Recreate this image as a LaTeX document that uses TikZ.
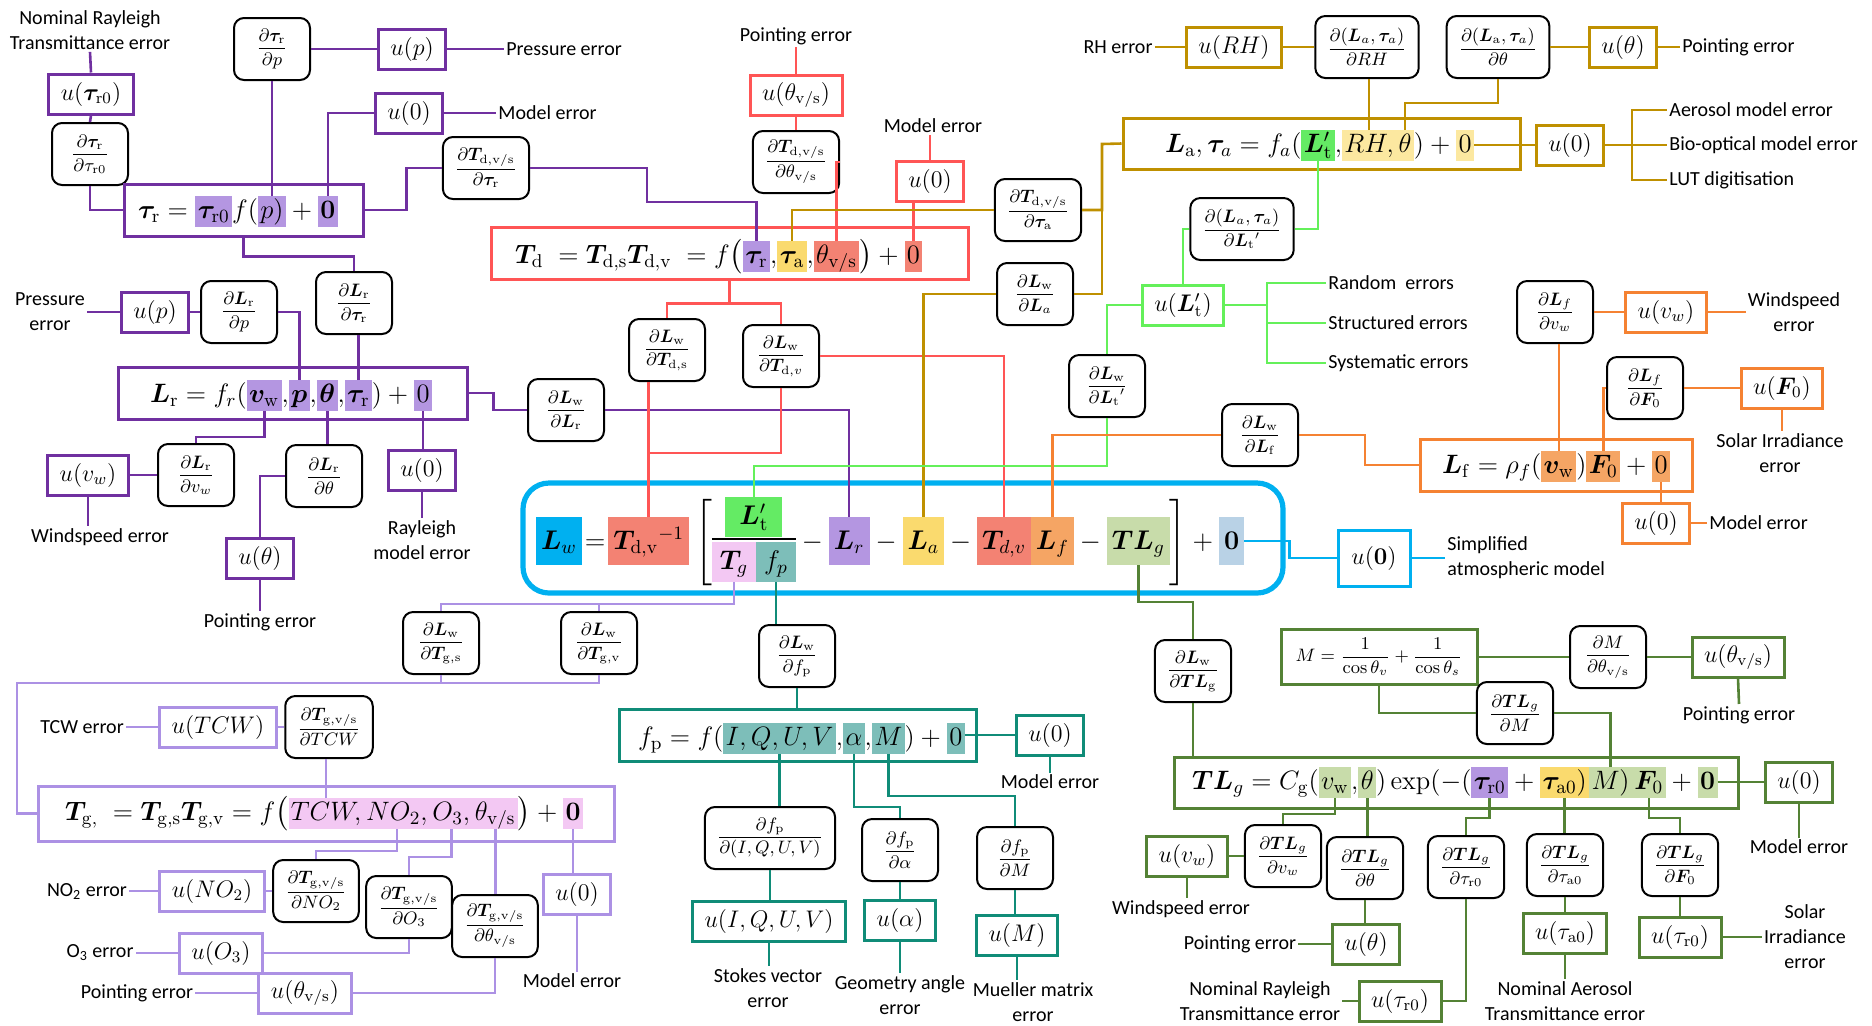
\RequirePackage{fix-cm}
\documentclass[tikz,border=0pt]{standalone}
\usepackage{amsmath}
\usepackage{bm}
\usepackage[no-math]{fontspec}
\setmainfont{Carlito}
\usetikzlibrary{positioning,fit,calc}

\definecolor{cpurple}{RGB}{112,48,160}
\definecolor{clav}{RGB}{172,145,228}
\definecolor{cred}{RGB}{255,85,85}
\definecolor{cgold}{RGB}{191,144,0}
\definecolor{cgreen}{RGB}{100,240,90}
\definecolor{corange}{RGB}{245,130,50}
\definecolor{colive}{RGB}{84,130,53}
\definecolor{cteal}{RGB}{16,140,120}
\definecolor{cblue}{RGB}{0,176,240}
\definecolor{hblue}{RGB}{0,176,240}
\definecolor{hsal}{RGB}{243,130,115}
\definecolor{hgrn}{RGB}{100,235,100}
\definecolor{hpink}{RGB}{243,200,243}
\definecolor{hteal}{RGB}{125,190,185}
\definecolor{hlav}{RGB}{180,150,225}
\definecolor{hyel}{RGB}{250,218,110}
\definecolor{hpyel}{RGB}{252,232,160}
\definecolor{hor}{RGB}{245,165,100}
\definecolor{hpale}{RGB}{200,220,170}
\definecolor{hzero}{RGB}{185,210,230}

\tikzset{
  lbl/.style={font=\fontsize{10}{12.5}\selectfont, align=center, inner sep=1pt},
  dbox/.style={draw=black, line width=1pt, rounded corners=5pt, fill=white,
    inner xsep=6pt, inner ysep=2pt, minimum width=38pt, minimum height=31pt,
    font=\fontsize{9}{11}\selectfont},
  ubox/.style={draw=#1, line width=1.5pt, fill=white, inner xsep=6pt,
    inner ysep=2pt, minimum height=20pt, font=\fontsize{12}{14}\selectfont},
  eqbox/.style={draw=#1, line width=1.5pt, inner sep=0pt},
  wire/.style={draw=#1, line width=1.3pt},
  term/.style={inner sep=0pt, outer sep=0pt, anchor=base west},
  hl/.style={term, fill=#1, inner xsep=1.2pt, inner ysep=1pt, text height=10pt, text depth=3.5pt},
  hlm/.style={term, fill=#1, inner xsep=2.5pt, inner ysep=4pt, text height=12pt, text depth=4pt},
  hlf/.style={term, fill=#1, inner xsep=4pt, inner ysep=2.5pt, text height=11pt, text depth=4pt},
}

\begin{document}
\begin{tikzpicture}[x=0.5pt,y=-0.5pt]
\useasboundingbox (0,0) rectangle (1872,1025);

% main equation
\node[draw=cblue, line width=2.6pt, rounded corners=13pt, inner sep=0pt, fit={(523,483) (1283,593)}] (main) {};
\begin{scope}[font=\fontsize{13.5}{16}\selectfont]
\node[hlm=hblue] (mLw) at (536,549) {$\bm L_w$};
\node[term] (meq) at (mLw.base east) {$\mkern2mu=\mkern2mu$};
\node[hlm=hsal] (mTdvi) at (meq.base east) {$\bm T_{\mathrm{d,v}}{}^{-1}$};
\node[term] (mbl) at (mTdvi.base east) {$\mkern4mu\Bigg[$};
\node[hlf=hpink] (mTg) at ($(mbl.base east)+(0,20)$) {$\bm T_g$};
\node[hlf=hteal] (mfp) at (mTg.base east) {$f_p$};
\node[hlf=hgrn, inner xsep=7pt, anchor=base] (mLt) at ($(mTg.base west)!0.5!(mfp.base east)+(0,-45)$) {$\bm L'_{\mathrm t}$};
\node[term] (mm1) at (mfp.base east |- mLw.base) {${}-{}$};
\node[hlm=hlav] (mLr) at (mm1.base east) {$\bm L_r$};
\node[term] (mm2) at (mLr.base east) {${}-{}$};
\node[hlm=hyel] (mLa) at (mm2.base east) {$\bm L_a$};
\node[term] (mm3) at (mLa.base east) {${}-{}$};
\node[hlm=hsal] (mTdv) at (mm3.base east) {$\bm T_{d,v}$};
\node[hlm=hor] (mLf) at (mTdv.base east) {$\bm L_f$};
\node[term] (mm4) at (mLf.base east) {${}-{}$};
\node[hlm=hpale] (mTLg) at (mm4.base east) {$\bm{TL}_g$};
\node[term] (mbr) at (mTLg.base east) {$\Bigg]{}+{}$};
\node[hlm=hzero] (mz) at (mbr.base east) {$\mathbf 0$};
\end{scope}
\draw[line width=1pt] ([yshift=1.5pt]mTg.north west) -- ([yshift=1.5pt]mfp.north east);

\node[ubox=cblue, minimum width=36pt, minimum height=28pt] (u0m) at (1374,558) {$u(\mathbf 0)$};
\node[lbl, anchor=west, align=left] (lsimp) at (1445,558) {Simplified\\atmospheric model};
\draw[wire=cblue] (mz.east) -- ++(45,0) |- (u0m.west);
\draw[wire=cblue] (u0m.east) -- (lsimp.west);

% tau_r
\node[lbl] (lnomr1) at (90,30) {Nominal Rayleigh\\Transmittance error};
\node[ubox=cpurple] (utr0) at (91,94) {$u(\bm\tau_{\mathrm r0})$};
\node[dbox] (dtrdtr0) at (90,154) {$\dfrac{\partial\bm\tau_{\mathrm r}}{\partial\tau_{\mathrm r0}}$};
\node[eqbox=cpurple, fit={(124,184) (363,236)}] (eqtr) {};
\begin{scope}[font=\fontsize{13.3}{16}\selectfont]
\node[term] (tr1) at (138,218) {$\bm\tau_{\mathrm r}={}$};
\node[hl=hlav] (trr0) at (tr1.base east) {$\bm\tau_{\mathrm r0}$};
\node[term] (tr2) at (trr0.base east) {$f($};
\node[hl=hlav] (trp) at (tr2.base east) {$p)$};
\node[term] (tr3) at (trp.base east) {${}+{}$};
\node[hl=hlav] (trz) at (tr3.base east) {$\mathbf 0$};
\end{scope}
\node[dbox] (dtrdp) at (272,49) {$\dfrac{\partial\bm\tau_{\mathrm r}}{\partial p}$};
\node[ubox=cpurple] (up1) at (412,49) {$u(p)$};
\node[lbl, anchor=west] (lpress1) at (504,49) {Pressure error};
\node[ubox=cpurple] (u01) at (409,113) {$u(0)$};
\node[lbl, anchor=west] (lmodel1) at (496,113) {Model error};
\node[dbox] (dTddtr) at (486,168) {$\dfrac{\partial\bm T_{\mathrm{d,v/s}}}{\partial\bm\tau_{\mathrm r}}$};

\draw[wire=cpurple] (lnomr1.south) -- (utr0.north);
\draw[wire=cpurple] (utr0.south) -- (dtrdtr0.north);
\draw[wire=cpurple] (dtrdtr0.south) |- (eqtr.west);
\draw[wire=cpurple] (trp.north) -- (trp.north |- dtrdp.south);
\draw[wire=cpurple] (dtrdp.east) -- (up1.west);
\draw[wire=cpurple] (up1.east) -- (lpress1.west);
\draw[wire=cpurple] (u01.west) -| (trz.north);
\draw[wire=cpurple] (u01.east) -- (lmodel1.west);
\draw[wire=cpurple] (eqtr.east) -- ++(42,0) |- (dTddtr.west);

% L_r
\node[dbox] (dLrdtr) at (354,303) {$\dfrac{\partial\bm L_{\mathrm r}}{\partial\bm\tau_{\mathrm r}}$};
\node[lbl] (lpress2) at (50,312) {Pressure\\error};
\node[ubox=cpurple] (up2) at (155,312) {$u(p)$};
\node[dbox] (dLrdp) at (239,312) {$\dfrac{\partial\bm L_{\mathrm r}}{\partial p}$};
\node[eqbox=cpurple, fit={(118,367) (467,419)}] (eqlr) {};
\begin{scope}[font=\fontsize{13.3}{16}\selectfont]
\node[term] (lr1) at (150,402) {$\bm L_{\mathrm r}=f_r($};
\node[hl=hlav] (lrvw) at (lr1.base east) {$\bm v_{\mathrm w}$};
\node[term] (lr2) at (lrvw.base east) {$,$};
\node[hl=hlav] (lrp) at (lr2.base east) {$\bm p$};
\node[term] (lr3) at (lrp.base east) {$,$};
\node[hl=hlav] (lrth) at (lr3.base east) {$\bm\theta$};
\node[term] (lr4) at (lrth.base east) {$,$};
\node[hl=hlav] (lrtr) at (lr4.base east) {$\bm\tau_{\mathrm r}$};
\node[term] (lr5) at (lrtr.base east) {$)+{}$};
\node[hl=hlav] (lrz) at (lr5.base east) {$0$};
\end{scope}
\node[dbox] (dLrdvw) at (196,475) {$\dfrac{\partial\bm L_{\mathrm r}}{\partial v_w}$};
\node[ubox=cpurple] (uvw1) at (88,475) {$u(v_w)$};
\node[lbl] (lwind1) at (100,537) {Windspeed error};
\node[dbox] (dLrdth) at (324,476) {$\dfrac{\partial\bm L_{\mathrm r}}{\partial\theta}$};
\node[ubox=cpurple] (uth1) at (260,558) {$u(\theta)$};
\node[lbl] (lpoint1) at (260,622) {Pointing error};
\node[ubox=cpurple] (u0lr) at (422,470) {$u(0)$};
\node[lbl] (lray) at (422,540) {Rayleigh\\model error};
\node[dbox] (dLwdLr) at (566,410) {$\dfrac{\partial\bm L_{\mathrm w}}{\partial\bm L_{\mathrm r}}$};

\draw[wire=cpurple] (eqtr.south) -- ++(0,19) -| (dLrdtr.north);
\draw[wire=cpurple] (lrtr.north) -- (lrtr.north |- dLrdtr.south);
\draw[wire=cpurple] (lpress2.east) -- (up2.west);
\draw[wire=cpurple] (up2.east) -- (dLrdp.west);
\draw[wire=cpurple] (dLrdp.east) -| (lrp.north);
\draw[wire=cpurple] (lrvw.south) -- (lrvw.south |- 0,437) -| (dLrdvw.north);
\draw[wire=cpurple] (dLrdvw.west) -- (uvw1.east);
\draw[wire=cpurple] (uvw1.south) -- (uvw1.south |- lwind1.north);
\draw[wire=cpurple] (lrth.south) -- (lrth.south |- dLrdth.north);
\draw[wire=cpurple] (dLrdth.west) -| (uth1.north);
\draw[wire=cpurple] (uth1.south) -- (lpoint1.north);
\draw[wire=cpurple] (lrz.south) -- (lrz.south |- u0lr.north);
\draw[wire=cpurple] (u0lr.south) -- (lray.north);
\draw[wire=cpurple] (eqlr.east) -- ++(25,0) |- (dLwdLr.west);
\draw[wire=cpurple] (dLwdLr.east) -| (mLr.north);

% T_d
\node[lbl] (lpoint2) at (796,36) {Pointing error};
\node[ubox=cred] (uthvs1) at (796,95) {$u(\theta_{\mathrm{v/s}})$};
\node[dbox] (dTddth) at (796,162) {$\dfrac{\partial\bm T_{\mathrm{d,v/s}}}{\partial\theta_{\mathrm{v/s}}}$};
\node[lbl] (lmodel2) at (933,126) {Model error};
\node[ubox=cred] (u0td) at (930,181) {$u(0)$};
\node[eqbox=cred, fit={(491,227) (968,279)}] (eqtd) {};
\begin{scope}[font=\fontsize{13.3}{16}\selectfont]
\node[term] (td1) at (515,263) {$\bm T_{\mathrm d}\;=\bm T_{\mathrm{d,s}}\bm T_{\mathrm{d,v}}\;=f\big($};
\node[hl=hlav] (tdtr) at (td1.base east) {$\bm\tau_{\mathrm r}$};
\node[term] (td2) at (tdtr.base east) {$,$};
\node[hl=hyel] (tdta) at (td2.base east) {$\bm\tau_{\mathrm a}$};
\node[term] (td3) at (tdta.base east) {$,$};
\node[hl=hsal] (tdth) at (td3.base east) {$\theta_{\mathrm{v/s}}$};
\node[term] (td4) at (tdth.base east) {$\big)+{}$};
\node[hl=hsal] (tdz) at (td4.base east) {$0$};
\end{scope}
\node[dbox] (dLwdTds) at (667,350) {$\dfrac{\partial\bm L_{\mathrm w}}{\partial\bm T_{\mathrm{d,s}}}$};
\node[dbox] (dLwdTdv) at (781,356) {$\dfrac{\partial\bm L_{\mathrm w}}{\partial\bm T_{\mathrm{d,}v}}$};

\draw[wire=cpurple] (dTddtr.east) -| (647,202) -| (tdtr.north);
\draw[wire=cred] (lpoint2.south) -- (uthvs1.north);
\draw[wire=cred] (uthvs1.south) -- (dTddth.north);
\draw[wire=cred] (dTddth.east) -| (tdth.north);
\draw[wire=cred] (u0td.north) -- (u0td.north |- lmodel2.south);
\draw[wire=cred] (tdz.north) -- (tdz.north |- u0td.south);
\draw[wire=cred] (eqtd.south) -- ++(0,23) -| (dLwdTds.north);
\draw[wire=cred] (eqtd.south) -- ++(0,23) -| (dLwdTdv.north);
\draw[wire=cred] (mTdvi.north) -- (mTdvi.north |- dLwdTds.south);
\draw[wire=cred] (dLwdTdv.south) -- (dLwdTdv.south |- 0,453) -| (mTdvi.north);
\draw[wire=cred] (dLwdTdv.east) -| (mTdv.north);

% L_a
\node[lbl] (lrh) at (1118,47) {RH error};
\node[ubox=cgold] (urh) at (1234,47) {$u(RH)$};
\node[dbox] (dLadRH) at (1367,47) {$\dfrac{\partial(\bm L_a,\bm\tau_a)}{\partial RH}$};
\node[dbox] (dLadth) at (1498,47) {$\dfrac{\partial(\bm L_{\mathrm a},\bm\tau_a)}{\partial\theta}$};
\node[ubox=cgold] (uth2) at (1623,47) {$u(\theta)$};
\node[lbl, anchor=west] (lpoint3) at (1680,47) {Pointing error};
\node[eqbox=cgold, fit={(1123,118) (1520,169)}] (eqla) {};
\begin{scope}[font=\fontsize{13.3}{16}\selectfont]
\node[term] (la1) at (1165,152) {$\bm L_{\mathrm a},\bm\tau_a=f_a($};
\node[hl=hgrn] (laLt) at (la1.base east) {$\bm L'_{\mathrm t}$};
\node[term] (la2) at (laLt.base east) {$,$};
\node[hl=hpyel] (larh) at (la2.base east) {$RH,$};
\node[hl=hpyel] (lath) at (larh.base east) {$\theta$};
\node[term] (la3) at (lath.base east) {$)+{}$};
\node[hl=hpyel] (laz) at (la3.base east) {$0$};
\end{scope}
\node[ubox=cgold] (u0la) at (1570,145) {$u(0)$};
\node[lbl, anchor=west] (laer) at (1667,110) {Aerosol model error};
\node[lbl, anchor=west] (lbio) at (1667,145) {Bio-optical model error};
\node[lbl, anchor=west] (llut) at (1667,180) {LUT digitisation};
\node[dbox] (dTddta) at (1038,210) {$\dfrac{\partial\bm T_{\mathrm{d,v/s}}}{\partial\bm\tau_{\mathrm a}}$};
\node[dbox] (dLwdLa) at (1035,294) {$\dfrac{\partial\bm L_{\mathrm w}}{\partial\bm L_a}$};
\coordinate (gbus) at (1102,144);
\coordinate (gbr) at (1632,145);

\draw[wire=cgold] (lrh.east) -- (urh.west);
\draw[wire=cgold] (urh.east) -- (dLadRH.west);
\draw[wire=cgold] (larh.north) -- (larh.north |- dLadRH.south);
\draw[wire=cgold] (dLadth.south) -- (dLadth.south |- 0,103) -| (lath.north);
\draw[wire=cgold] (dLadth.east) -- (uth2.west);
\draw[wire=cgold] (uth2.east) -- (lpoint3.west);
\draw[wire=cgold] (laz.east |- u0la.west) -- (u0la.west);
\draw[wire=cgold] (u0la.east) -- (gbr) |- (laer.west);
\draw[wire=cgold] (gbr) |- (lbio.west);
\draw[wire=cgold] (gbr) |- (llut.west);
\draw[wire=cgold] (tdta.north) |- (dTddta.west);
\draw[wire=cgold] (dTddta.east) -| (gbus) -- (eqla.west);
\draw[wire=cgold] (dLwdLa.east) -| (gbus);
\draw[wire=cgold] (dLwdLa.west) -| (mLa.north);

% L_t'
\node[ubox=cgreen] (ult) at (1183,305) {$u(\bm L'_{\mathrm t})$};
\node[dbox] (dLadLt) at (1242,229) {$\dfrac{\partial(\bm L_a,\bm\tau_a)}{\partial{\bm L_{\mathrm t}}'}$};
\node[dbox] (dLwdLt) at (1107,386) {$\dfrac{\partial\bm L_{\mathrm w}}{\partial{\bm L_{\mathrm t}}'}$};
\node[lbl, anchor=west] (lrand) at (1326,283) {Random\ \ errors};
\node[lbl, anchor=west] (lstruc) at (1326,323) {Structured errors};
\node[lbl, anchor=west] (lsyst) at (1326,363) {Systematic errors};
\coordinate (gnb) at (1267,305);

\draw[wire=cgreen] (ult.north) |- (dLadLt.west);
\draw[wire=cgreen] (dLadLt.east) -| (laLt.south);
\draw[wire=cgreen] (ult.west) -| (dLwdLt.north);
\draw[wire=cgreen] (dLwdLt.south) -- (dLwdLt.south |- 0,466) -| (mLt.north);
\draw[wire=cgreen] (ult.east) -- (gnb) |- (lrand.west);
\draw[wire=cgreen] (gnb) |- (lstruc.west);
\draw[wire=cgreen] (gnb) |- (lsyst.west);

% L_f
\node[dbox] (dLfdvw) at (1555,312) {$\dfrac{\partial\bm L_f}{\partial v_w}$};
\node[ubox=corange] (uvw2) at (1666,312) {$u(v_w)$};
\node[lbl] (lwind2) at (1794,312) {Windspeed\\error};
\node[dbox] (dLfdF0) at (1645,388) {$\dfrac{\partial\bm L_f}{\partial\bm F_0}$};
\node[ubox=corange] (uf0) at (1782,388) {$u(\bm F_0)$};
\node[lbl] (lsolar1) at (1780,453) {Solar Irradiance\\error};
\node[eqbox=corange, fit={(1420,439) (1692,491)}] (eqlf) {};
\begin{scope}[font=\fontsize{13.3}{16}\selectfont]
\node[term] (lf1) at (1442,473) {$\bm L_{\mathrm f}=\rho_f($};
\node[hl=hor] (lfvw) at (lf1.base east) {$\bm v_{\mathrm w}$};
\node[term] (lf2) at (lfvw.base east) {$)$};
\node[hl=hor] (lfF) at (lf2.base east) {$\bm F_0$};
\node[term] (lf3) at (lfF.base east) {${}+{}$};
\node[hl=hor] (lfz) at (lf3.base east) {$0$};
\end{scope}
\node[ubox=corange] (u0lf) at (1656,523) {$u(0)$};
\node[lbl, anchor=west] (lmodel3) at (1707,523) {Model error};
\node[dbox] (dLwdLf) at (1260,435) {$\dfrac{\partial\bm L_{\mathrm w}}{\partial\bm L_{\mathrm f}}$};
\coordinate (obus) at (1365,465);

\draw[wire=corange] (dLfdvw.east) -- (uvw2.west);
\draw[wire=corange] (uvw2.east) -- (lwind2.west);
\draw[wire=corange] (lfvw.north) -- (lfvw.north |- dLfdvw.south);
\draw[wire=corange] (dLfdF0.west) -| (lfF.north);
\draw[wire=corange] (dLfdF0.east) -- (uf0.west);
\draw[wire=corange] (uf0.south) -- (uf0.south |- lsolar1.north);
\draw[wire=corange] (lfz.south) -- (lfz.south |- u0lf.north);
\draw[wire=corange] (u0lf.east) -- (lmodel3.west);
\draw[wire=corange] (mLf.north) |- (dLwdLf.west);
\draw[wire=corange] (dLwdLf.east) -| (obus) -- (eqlf.west);

% TL_g
\node[dbox] (dLwdTLg) at (1193,671) {$\dfrac{\partial\bm L_{\mathrm w}}{\partial\bm{TL}_{\mathrm g}}$};
\node[eqbox=colive, fit={(1174,757) (1738,808)}] (eqtl) {};
\begin{scope}[font=\fontsize{13.3}{16}\selectfont]
\node[term] (tl1) at (1192,789) {$\bm{TL}_g=C_{\mathrm g}($};
\node[hl=hpale] (tlvw) at (tl1.base east) {$v_{\mathrm w}$};
\node[term] (tl2) at (tlvw.base east) {$,$};
\node[hl=hpale] (tlth) at (tl2.base east) {$\theta$};
\node[term] (tl3) at (tlth.base east) {$)\exp(-($};
\node[hl=hlav] (tltr) at (tl3.base east) {$\bm\tau_{\mathrm r0}$};
\node[term] (tl4) at (tltr.base east) {${}+{}$};
\node[hl=hyel] (tlta) at (tl4.base east) {$\bm\tau_{\mathrm a0})$};
\node[hl=hpale] (tlM) at (tlta.base east) {$M)$};
\node[hl=hpale] (tlF) at (tlM.base east) {$\bm F_0$};
\node[term] (tl5) at (tlF.base east) {${}+{}$};
\node[hl=hpale] (tlz) at (tl5.base east) {$\mathbf 0$};
\end{scope}
\node[eqbox=colive, minimum width=98pt, minimum height=27.5pt, font=\fontsize{9}{11}\selectfont] (mbox) at (1379,657) {$M=\dfrac{1}{\cos\theta_v}+\dfrac{1}{\cos\theta_s}$};
\node[dbox] (dMdth) at (1608,657) {$\dfrac{\partial M}{\partial\theta_{\mathrm{v/s}}}$};
\node[ubox=colive] (uthvs2) at (1738,657) {$u(\theta_{\mathrm{v/s}})$};
\node[lbl] (lpoint4) at (1739,715) {Pointing error};
\node[dbox] (dTLgdM) at (1515,713) {$\dfrac{\partial\bm{TL}_g}{\partial M}$};
\node[dbox] (dTLgdvw) at (1283,856) {$\dfrac{\partial\bm{TL}_g}{\partial v_w}$};
\node[ubox=colive] (uvw3) at (1187,856) {$u(v_w)$};
\node[lbl] (lwind3) at (1181,909) {Windspeed error};
\node[dbox] (dTLgdth) at (1365,868) {$\dfrac{\partial\bm{TL}_g}{\partial\theta}$};
\node[ubox=colive] (uth3) at (1366,944) {$u(\theta)$};
\node[lbl] (lpoint5) at (1240,944) {Pointing error};
\node[dbox] (dTLgdtr) at (1466,867) {$\dfrac{\partial\bm{TL}_g}{\partial\tau_{\mathrm r0}}$};
\node[ubox=colive] (utr02) at (1400,1001) {$u(\tau_{\mathrm r0})$};
\node[lbl] (lnomr2) at (1260,1001) {Nominal Rayleigh\\Transmittance error};
\node[dbox] (dTLgdta) at (1565,865) {$\dfrac{\partial\bm{TL}_g}{\partial\tau_{\mathrm a0}}$};
\node[ubox=colive] (uta0) at (1565,933) {$u(\tau_{\mathrm a0})$};
\node[lbl] (lnoma) at (1565,1001) {Nominal Aerosol\\Transmittance error};
\node[dbox] (dTLgdF) at (1680,865) {$\dfrac{\partial\bm{TL}_g}{\partial\bm F_0}$};
\node[ubox=colive] (utr03) at (1680,937) {$u(\tau_{\mathrm r0})$};
\node[lbl] (lsolar2) at (1805,937) {Solar\\Irradiance\\error};
\node[ubox=colive] (u0tl) at (1799,782) {$u(0)$};
\node[lbl] (lmodel4) at (1799,847) {Model error};

\draw[wire=colive] (mTLg.south) -- (mTLg.south |- 0,602) -| (dLwdTLg.north);
\draw[wire=colive] (dLwdTLg.south) -- (dLwdTLg.south |- eqtl.north);
\draw[wire=colive] (mbox.east) -- (dMdth.west);
\draw[wire=colive] (dMdth.east) -- (uthvs2.west);
\draw[wire=colive] (uthvs2.south) -- (lpoint4.north);
\draw[wire=colive] (mbox.south) |- (dTLgdM.west);
\draw[wire=colive] (dTLgdM.east) -| (tlM.north);
\draw[wire=colive] (tlvw.south) -- (tlvw.south |- 0,814) -| (dTLgdvw.north);
\draw[wire=colive] (dTLgdvw.west) -- (uvw3.east);
\draw[wire=colive] (uvw3.south) -- (uvw3.south |- lwind3.north);
\draw[wire=colive] (tlth.south) -- (tlth.south |- dTLgdth.north);
\draw[wire=colive] (dTLgdth.south) -- (dTLgdth.south |- uth3.north);
\draw[wire=colive] (uth3.west) -- (lpoint5.east);
\draw[wire=colive] (tltr.south) -- (tltr.south |- 0,818) -| (dTLgdtr.north);
\draw[wire=colive] (dTLgdtr.south) |- (utr02.east);
\draw[wire=colive] (utr02.west) -- (lnomr2.east);
\draw[wire=colive] (tlta.south) -- (tlta.south |- dTLgdta.north);
\draw[wire=colive] (dTLgdta.south) -- (dTLgdta.south |- uta0.north);
\draw[wire=colive] (uta0.south) -- (lnoma.north);
\draw[wire=colive] (tlF.south) -- (tlF.south |- 0,818) -| (dTLgdF.north);
\draw[wire=colive] (dTLgdF.south) -- (utr03.north);
\draw[wire=colive] (utr03.east) -- (lsolar2.west);
\draw[wire=colive] (tlz.east |- u0tl.west) -- (u0tl.west);
\draw[wire=colive] (u0tl.south) -- (lmodel4.north);

% f_p
\node[dbox] (dLwdfp) at (797,656) {$\dfrac{\partial\bm L_{\mathrm w}}{\partial f_{\mathrm p}}$};
\node[eqbox=cteal, fit={(619,709) (976,761)}] (eqfp) {};
\begin{scope}[font=\fontsize{13.3}{16}\selectfont]
\node[term] (fp1) at (638,745) {$f_{\mathrm p}=f($};
\node[hl=hteal] (fpI) at (fp1.base east) {$I,Q,U,V$};
\node[term] (fp2) at (fpI.base east) {$,$};
\node[hl=hteal] (fpa) at (fp2.base east) {$\alpha$};
\node[term] (fp3) at (fpa.base east) {$,$};
\node[hl=hteal] (fpM) at (fp3.base east) {$M$};
\node[term] (fp4) at (fpM.base east) {$)+{}$};
\node[hl=hteal] (fpz) at (fp4.base east) {$0$};
\end{scope}
\node[ubox=cteal] (u0fp) at (1050,735) {$u(0)$};
\node[lbl] (lmodel5) at (1050,782) {Model error};
\node[dbox] (dfpdI) at (770,838) {$\dfrac{\partial f_{\mathrm p}}{\partial(I,Q,U,V)}$};
\node[ubox=cteal] (uI) at (769,921) {$u(I,Q,U,V)$};
\node[lbl] (lstokes) at (768,988) {Stokes vector\\error};
\node[dbox] (dfpda) at (900,850) {$\dfrac{\partial f_{\mathrm p}}{\partial\alpha}$};
\node[ubox=cteal] (ua) at (900,920) {$u(\alpha)$};
\node[lbl] (lgeo) at (900,995) {Geometry angle\\error};
\node[dbox] (dfpdM) at (1015,858) {$\dfrac{\partial f_{\mathrm p}}{\partial M}$};
\node[ubox=cteal] (uM) at (1017,935) {$u(M)$};
\node[lbl] (lmueller) at (1033,1002) {Mueller matrix\\error};

\draw[wire=cteal] (mfp.south) -- (mfp.south |- dLwdfp.north);
\draw[wire=cteal] (dLwdfp.south) -- (dLwdfp.south |- eqfp.north);
\draw[wire=cteal] (fpz.east |- u0fp.west) -- (u0fp.west);
\draw[wire=cteal] (u0fp.south) -- (lmodel5.north);
\draw[wire=cteal] (fpI.south) -- (fpI.south |- dfpdI.north);
\draw[wire=cteal] (dfpdI.south) -- (dfpdI.south |- uI.north);
\draw[wire=cteal] (uI.south) -- (uI.south |- lstokes.north);
\draw[wire=cteal] (fpa.south) -- (fpa.south |- 0,807) -| (dfpda.north);
\draw[wire=cteal] (dfpda.south) -- (ua.north);
\draw[wire=cteal] (ua.south) -- (lgeo.north);
\draw[wire=cteal] (fpM.south) -- (fpM.south |- 0,796) -| (dfpdM.north);
\draw[wire=cteal] (dfpdM.south) -- (dfpdM.south |- uM.north);
\draw[wire=cteal] (uM.south) -- (uM.south |- lmueller.north);

% T_g
\node[dbox] (dLwdTgs) at (441,643) {$\dfrac{\partial\bm L_{\mathrm w}}{\partial\bm T_{\mathrm{g,s}}}$};
\node[dbox] (dLwdTgv) at (599,643) {$\dfrac{\partial\bm L_{\mathrm w}}{\partial\bm T_{\mathrm{g,v}}}$};
\coordinate (tgbus) at (17,683);
\node[eqbox=clav, fit={(38,786) (614,841)}] (eqtg) {};
\begin{scope}[font=\fontsize{13.3}{16}\selectfont]
\node[term] (tg1) at (65,820) {$\bm T_{\mathrm{g,}}\;=\bm T_{\mathrm{g,s}}\bm T_{\mathrm{g,v}}=f\big($};
\node[hl=hpink] (tgtcw) at (tg1.base east) {$TCW,$};
\node[hl=hpink] (tgno) at (tgtcw.base east) {$NO_2,$};
\node[hl=hpink] (tgo) at (tgno.base east) {$O_3,$};
\node[hl=hpink] (tgth) at (tgo.base east) {$\theta_{\mathrm{v/s}}$};
\node[term] (tg2) at (tgth.base east) {$\big)+{}$};
\node[hl=hpink] (tgz) at (tg2.base east) {$\mathbf 0$};
\end{scope}
\node[lbl] (ltcw) at (82,727) {TCW error};
\node[ubox=clav] (utcw) at (218,727) {$u(TCW)$};
\node[dbox] (dTgdTCW) at (329,727) {$\dfrac{\partial\bm T_{\mathrm{g,v/s}}}{\partial TCW}$};
\node[lbl] (lno2) at (87,891) {NO\textsubscript{2} error};
\node[ubox=clav] (uno2) at (212,891) {$u(NO_2)$};
\node[dbox] (dTgdNO2) at (316,891) {$\dfrac{\partial\bm T_{\mathrm{g,v/s}}}{\partial NO_2}$};
\node[dbox] (dTgdO3) at (409,907) {$\dfrac{\partial\bm T_{\mathrm{g,v/s}}}{\partial O_3}$};
\node[lbl] (lo3) at (100,953) {O\textsubscript{3} error};
\node[ubox=clav] (uo3) at (221,953) {$u(O_3)$};
\node[dbox] (dTgdth) at (495,926) {$\dfrac{\partial\bm T_{\mathrm{g,v/s}}}{\partial\theta_{\mathrm{v/s}}}$};
\node[lbl] (lpoint6) at (137,993) {Pointing error};
\node[ubox=clav] (uthvs3) at (305,993) {$u(\theta_{\mathrm{v/s}})$};
\node[ubox=clav] (u0tg) at (577,894) {$u(0)$};
\node[lbl] (lmodel6) at (572,981) {Model error};

\draw[wire=clav] (mTg.south) -- (mTg.south |- 0,604) -| (dLwdTgs.north);
\draw[wire=clav] (mTg.south |- 0,604) -| (dLwdTgv.north);
\draw[wire=clav] (dLwdTgs.south) |- (tgbus) |- (eqtg.west);
\draw[wire=clav] (dLwdTgv.south) |- (tgbus);
\draw[wire=clav] (ltcw.east) -- (utcw.west);
\draw[wire=clav] (utcw.east) -- (dTgdTCW.west);
\draw[wire=clav] (tgtcw.north) -- (tgtcw.north |- dTgdTCW.south);
\draw[wire=clav] (tgno.south) -- (tgno.south |- 0,851) -| (dTgdNO2.north);
\draw[wire=clav] (dTgdNO2.west) -- (uno2.east);
\draw[wire=clav] (uno2.west) -- (lno2.east);
\draw[wire=clav] (tgo.south) -- (tgo.south |- 0,857) -| (dTgdO3.north);
\draw[wire=clav] (dTgdO3.south) |- (uo3.east);
\draw[wire=clav] (uo3.west) -- (lo3.east);
\draw[wire=clav] (tgth.south) -- (tgth.south |- dTgdth.north);
\draw[wire=clav] (dTgdth.south) |- (uthvs3.east);
\draw[wire=clav] (uthvs3.west) -- (lpoint6.east);
\draw[wire=clav] (tgz.south) -- (tgz.south |- u0tg.north);
\draw[wire=clav] (u0tg.south) -- (u0tg.south |- lmodel6.north);
\end{tikzpicture}
\end{document}
